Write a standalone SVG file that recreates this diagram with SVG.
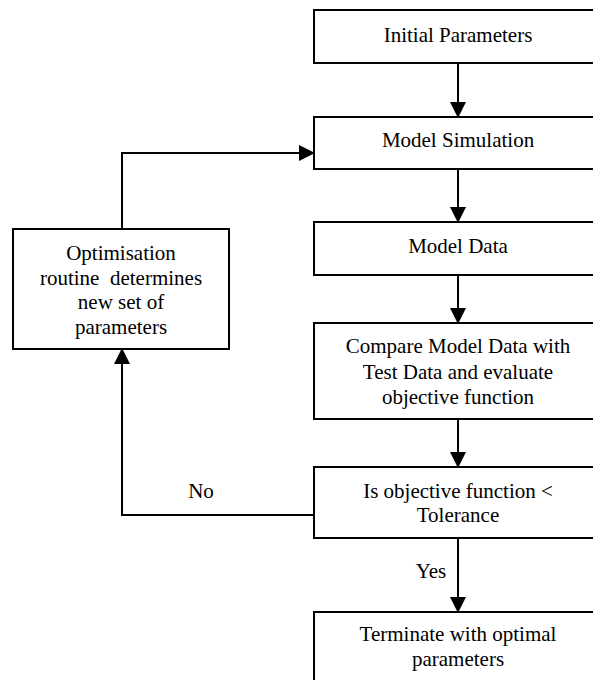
<svg xmlns="http://www.w3.org/2000/svg" width="593" height="680" viewBox="0 0 593 680">
<style>
.box{fill:#fff;stroke:#000;stroke-width:2}
.lbl{font-size:21px;fill:#000;text-anchor:middle}
.con{fill:none;stroke:#000;stroke-width:2}
</style>
<defs>
<marker id="ah" markerUnits="userSpaceOnUse" markerWidth="16" markerHeight="16" viewBox="0 0 16 16" refX="15" refY="8" orient="auto">
<path d="M0,0 L16,8 L0,16 Z" fill="#000"/>
</marker>
</defs>
<rect width="593" height="680" fill="#fff"/>
<g font-family="Liberation Serif, Times New Roman, serif">
<g id="connectors">
<line class="con" x1="458" y1="63" x2="458" y2="117" marker-end="url(#ah)"/>
<line class="con" x1="458" y1="169" x2="458" y2="222" marker-end="url(#ah)"/>
<line class="con" x1="458" y1="275" x2="458" y2="323" marker-end="url(#ah)"/>
<line class="con" x1="458" y1="419" x2="458" y2="467" marker-end="url(#ah)"/>
<line class="con" x1="458" y1="538" x2="458" y2="612" marker-end="url(#ah)"/>
<polyline class="con" points="122,229 122,153 314,153" marker-end="url(#ah)"/>
<polyline class="con" points="314,515 122,515 122,349" marker-end="url(#ah)"/>
<text class="lbl" x="431" y="578">Yes</text>
<text class="lbl" x="201" y="498">No</text>
</g>
<g id="initial">
<rect class="box" x="314" y="10" width="290" height="53"/>
<text class="lbl" x="458" y="42">Initial Parameters</text>
</g>
<g id="simulation">
<rect class="box" x="314" y="117" width="290" height="52"/>
<text class="lbl" x="458" y="147">Model Simulation</text>
</g>
<g id="modeldata">
<rect class="box" x="314" y="222" width="290" height="53"/>
<text class="lbl" x="458" y="253">Model Data</text>
</g>
<g id="compare">
<rect class="box" x="314" y="323" width="290" height="96"/>
<text class="lbl" x="458" y="353">Compare Model Data with</text>
<text class="lbl" x="458" y="379">Test Data and evaluate</text>
<text class="lbl" x="458" y="404">objective function</text>
</g>
<g id="decision">
<rect class="box" x="314" y="467" width="290" height="71"/>
<text class="lbl" x="458" y="498">Is objective function &lt;</text>
<text class="lbl" x="458" y="522">Tolerance</text>
</g>
<g id="terminate">
<rect class="box" x="314" y="612" width="290" height="80"/>
<text class="lbl" x="458" y="641">Terminate with optimal</text>
<text class="lbl" x="458" y="666">parameters</text>
</g>
<g id="optimisation">
<rect class="box" x="13" y="229" width="216" height="120"/>
<text class="lbl" x="121" y="260">Optimisation</text>
<text class="lbl" x="121" y="285" xml:space="preserve">routine  determines</text>
<text class="lbl" x="121" y="309">new set of</text>
<text class="lbl" x="121" y="334">parameters</text>
</g>
</g>
</svg>
